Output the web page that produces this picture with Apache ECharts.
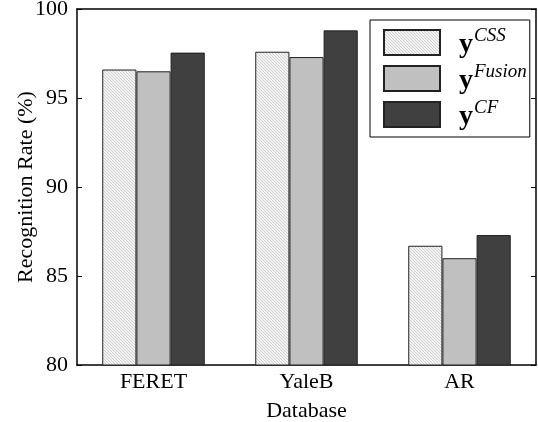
<!DOCTYPE html>
<html>
<head>
<meta charset="utf-8">
<script src="https://cdn.jsdelivr.net/npm/echarts@6/dist/echarts.min.js"></script>
<style>
html, body { margin: 0; padding: 0; background: #fff; }
#chart { width: 538px; height: 422px; }
</style>
</head>
<body>
<div id="chart"></div>
<script>
var categories = ['FERET', 'YaleB', 'AR'];
var seriesNames = ['CSS', 'Fusion', 'CF'];
var cssValues = [96.6, 97.6, 86.7];
var fusionValues = [96.5, 97.3, 86.0];
var cfValues = [97.55, 98.8, 87.3];
var yTicks = [80, 85, 90, 95, 100];

// hatch pattern for the CSS bars
function makeHatch() {
    var c = document.createElement('canvas');
    c.width = 3;
    c.height = 3;
    var ctx = c.getContext('2d');
    ctx.fillStyle = '#f4f4f4';
    ctx.fillRect(0, 0, 3, 3);
    ctx.strokeStyle = '#c4c4c4';
    ctx.lineWidth = 0.8;
    ctx.beginPath();
    ctx.moveTo(0, 0); ctx.lineTo(3, 3);
    ctx.moveTo(-1, 2); ctx.lineTo(1, 4);
    ctx.moveTo(2, -1); ctx.lineTo(4, 1);
    ctx.stroke();
    return c;
}

var font = 'Liberation Serif';
var fills = [{ image: makeHatch(), repeat: 'repeat' }, '#c0c0c0', '#404040'];
var values = [cssValues, fusionValues, cfValues];

var series = seriesNames.map(function(name, i) {
    return {
        name: name,
        type: 'bar',
        barGap: '0%',
        barCategoryGap: '33%',
        data: values[i],
        itemStyle: {
            color: fills[i],
            borderColor: '#222',
            borderWidth: 1
        }
    };
});

var myChart = echarts.init(document.getElementById('chart'));
myChart.setOption({
    animation: false,
    textStyle: { fontFamily: font, color: '#000' },
    grid: { left: 77, right: 2, top: 9, bottom: 57, containLabel: false, outerBoundsMode: 'none' },
    legend: {
        orient: 'vertical',
        left: 370,
        top: 20,
        padding: [6, 3, 6, 13],
        itemGap: 3,
        itemWidth: 56,
        itemHeight: 25,
        borderColor: '#000',
        borderWidth: 1,
        backgroundColor: '#fff',
        icon: 'rect',
        data: seriesNames,
        formatter: function(name) {
            return '{y|y}{sup|' + name + '}';
        },
        textStyle: {
            fontSize: 19,
            lineHeight: 33,
            rich: {
                y: { fontFamily: font, fontWeight: 'bold', fontSize: 28, color: '#000', lineHeight: 33, verticalAlign: 'bottom', padding: [0, 0, 0, 14] },
                sup: { fontFamily: font, fontStyle: 'italic', fontSize: 19, color: '#000', lineHeight: 33, verticalAlign: 'top', padding: [0, 0, 0, 1] }
            }
        }
    },
    xAxis: [{
        type: 'category',
        data: categories,
        name: 'Database',
        nameLocation: 'middle',
        nameGap: 35,
        nameMoveOverlap: false,
        nameTextStyle: { fontSize: 22, fontFamily: font, color: '#000' },
        axisLine: { lineStyle: { color: '#000', width: 1.5 } },
        axisTick: { inside: true, alignWithLabel: true, length: 5, lineStyle: { color: '#000' } },
        axisLabel: { fontSize: 22, fontFamily: font, color: '#000', margin: 6 }
    }, {
        type: 'category',
        data: categories,
        position: 'top',
        axisLine: { lineStyle: { color: '#000', width: 1.5 } },
        axisTick: { inside: true, alignWithLabel: true, length: 5, lineStyle: { color: '#000' } },
        axisLabel: { show: false }
    }],
    yAxis: [{
        type: 'value',
        min: yTicks[0],
        max: yTicks[yTicks.length - 1],
        interval: 5,
        name: 'Recognition Rate (%)',
        nameLocation: 'middle',
        nameGap: 40,
        nameMoveOverlap: false,
        nameTextStyle: { fontSize: 22, fontFamily: font, color: '#000' },
        splitLine: { show: false },
        axisLine: { show: true, lineStyle: { color: '#000', width: 1.5 } },
        axisTick: { show: true, inside: true, length: 5, lineStyle: { color: '#000' } },
        axisLabel: { fontSize: 22, fontFamily: font, color: '#000', margin: 9 }
    }, {
        type: 'value',
        min: yTicks[0],
        max: yTicks[yTicks.length - 1],
        interval: 5,
        position: 'right',
        splitLine: { show: false },
        axisLine: { show: true, lineStyle: { color: '#000', width: 1.5 } },
        axisTick: { show: true, inside: true, length: 5, lineStyle: { color: '#000' } },
        axisLabel: { show: false }
    }],
    series: series
});
</script>
</body>
</html>
